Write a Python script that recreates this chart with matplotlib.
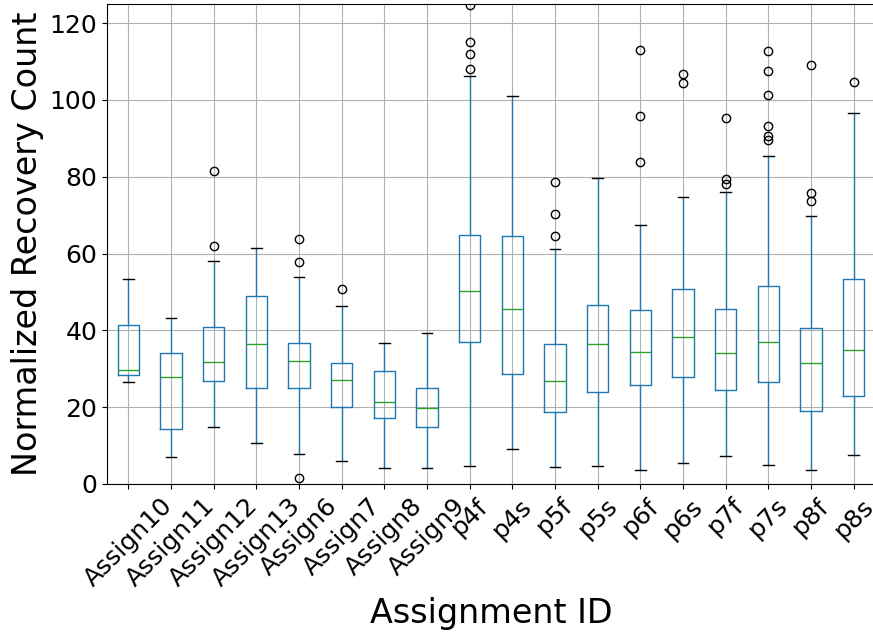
#!/usr/bin/env python3
import matplotlib
matplotlib.use("Agg")
import matplotlib.pyplot as plt

# Box statistics
labels = ["Assign10", "Assign11", "Assign12", "Assign13", "Assign6", "Assign7",
          "Assign8", "Assign9", "p4f", "p4s", "p5f", "p5s", "p6f", "p6s",
          "p7f", "p7s", "p8f", "p8s"]
whislo = [26.5, 6.9, 14.8, 10.6, 7.9, 6.0, 4.1, 4.2, 4.7, 9.0,
          4.4, 4.6, 3.7, 5.5, 7.4, 5.0, 3.7, 7.6]
q1 = [28.4, 14.2, 26.7, 25.0, 24.9, 20.1, 17.1, 14.9, 37.0, 28.7,
      18.7, 24.0, 25.9, 27.8, 24.5, 26.6, 19.1, 23.0]
med = [29.8, 27.8, 31.8, 36.5, 32.1, 27.1, 21.4, 19.8, 50.2, 45.7,
       26.7, 36.4, 34.5, 38.4, 34.1, 36.9, 31.4, 34.9]
q3 = [41.4, 34.2, 40.8, 48.9, 36.6, 31.6, 29.3, 24.9, 64.8, 64.6,
      36.5, 46.5, 45.2, 50.8, 45.7, 51.5, 40.7, 53.3]
whishi = [53.3, 43.3, 58.0, 61.4, 53.8, 46.4, 36.6, 39.4, 106.3, 101.1,
          61.2, 79.8, 67.4, 74.7, 76.0, 85.5, 69.8, 96.5]
fliers = [[], [], [81.6, 62.1], [], [63.8, 57.9, 1.6], [50.7], [], [],
          [108.1, 112.0, 115.0, 124.8], [], [64.7, 70.2, 78.7], [],
          [83.9, 95.8, 112.9], [104.5, 106.7], [78.0, 79.4, 95.2],
          [89.7, 90.7, 93.3, 101.4, 107.5, 112.8], [73.6, 75.7, 109.1], [104.7]]


def plot_box():
    stats = []
    for i in range(len(labels)):
        stats.append({"label": labels[i], "whislo": whislo[i], "q1": q1[i],
                      "med": med[i], "q3": q3[i], "whishi": whishi[i],
                      "fliers": fliers[i]})

    fig = plt.figure(figsize=(8.73, 6.34), dpi=100)
    ax = fig.add_axes([0.1226, 0.2366, 0.8797, 0.7571])

    ax.bxp(stats, widths=0.5,
           boxprops=dict(color="#1f77b4"),
           whiskerprops=dict(color="#1f77b4"),
           capprops=dict(color="black"),
           medianprops=dict(color="#2ca02c"),
           flierprops=dict(marker="o", markerfacecolor="none",
                           markeredgecolor="black", markersize=6))

    ax.set_ylim(0, 125)
    ax.set_xlim(0.5, 18.5)
    ax.grid(True, color="#b0b0b0", linewidth=0.8)
    ax.set_axisbelow(True)
    ax.tick_params(axis="both", labelsize=18)
    plt.setp(ax.get_xticklabels(), rotation=45, ha="center")
    ax.set_xlabel("Assignment ID", fontsize=24)
    ax.set_ylabel("Normalized Recovery Count", fontsize=24)

    fig.savefig("out.png", dpi=100)


if __name__ == "__main__":
    plot_box()
